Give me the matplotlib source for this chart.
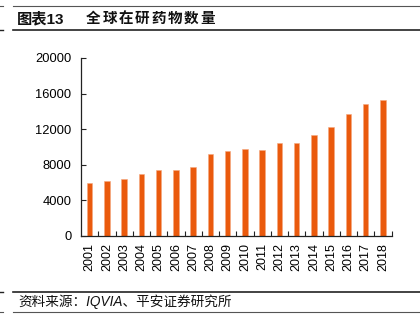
import matplotlib
matplotlib.use("Agg")
import matplotlib.pyplot as plt
from matplotlib.lines import Line2D

plt.rcParams['font.family'] = ['Liberation Sans', 'Noto Sans CJK SC', 'DejaVu Sans']

years = ["2001", "2002", "2003", "2004", "2005", "2006", "2007", "2008", "2009",
         "2010", "2011", "2012", "2013", "2014", "2015", "2016", "2017", "2018"]
pipeline = [5995, 6198, 6416, 6994, 7360, 7406, 7737, 9217, 9605,
            9737, 9713, 10452, 10479, 11307, 12300, 13718, 14872, 15267]
y_ticks = [0, 4000, 8000, 12000, 16000, 20000]

fig_label = "图表13"
title = "全球在研药物数量"
source = "资料来源：IQVIA、平安证券研究所"

W, H = 420, 321
fig = plt.figure(figsize=(W / 100, H / 100), dpi=100)

ax = fig.add_axes([81 / W, 1 - 236 / H, (391.5 - 81) / W, (236 - 58) / H])
x = list(range(len(years)))
ax.bar(x, pipeline, width=0.32, color="#EA5A0D", edgecolor="#F4A77E", linewidth=0.4)

ax.set_xlim(-0.5, len(years) - 0.5)
ax.set_ylim(0, 20000)
ax.set_yticks(y_ticks)
ax.set_yticklabels([str(v) for v in y_ticks], fontsize=9.3)
ax.set_xticks(x)
ax.set_xticklabels(years, rotation=90, fontsize=9)
ax.tick_params(axis="x", length=0, pad=5)
ax.set_xticks([i + 0.5 for i in range(len(years))], minor=True)
ax.tick_params(axis="x", which="minor", direction="in", length=3.5, width=0.8, color="#222222")
ax.tick_params(axis="y", direction="in", length=3.5, width=0.8, color="#222222", pad=7)
for side in ("top", "right"):
    ax.spines[side].set_visible(False)
for side in ("left", "bottom"):
    ax.spines[side].set_linewidth(0.9)
    ax.spines[side].set_color("#222222")

def hline(y, x0, x1, lw, color="#333333"):
    fig.add_artist(Line2D([x0 / W, x1 / W], [1 - y / H, 1 - y / H],
                          transform=fig.transFigure, lw=lw, color=color))

# header rules
hline(6, 13, W, 0.8, "#555555")
hline(30, 13, W, 1.2, "#222222")
hline(6, 0, 2.5, 0.8, "#555555")
hline(30, 0, 2.5, 1.0, "#222222")
# footer rules
hline(292, 13, W, 1.2, "#222222")
hline(312, 13, W, 0.8, "#555555")
hline(292, 0, 2.5, 1.0, "#222222")
hline(312, 0, 2.5, 0.8, "#555555")

fig.text(17 / W, 1 - 19 / H, fig_label, fontsize=11, fontweight="bold",
         va="center", ha="left", color="#111111")
# widely tracked chart title, one glyph per 16.3 px
for i, ch in enumerate(title):
    fig.text((86 + i * 16.3) / W, 1 - 19 / H, ch, fontsize=10.5, fontweight="bold",
             va="center", ha="left", color="#111111")
fig.text(18 / W, 1 - 302 / H, source, fontsize=9.8, style="italic",
         va="center", ha="left", color="#111111")

fig.savefig("out.png", dpi=100)
